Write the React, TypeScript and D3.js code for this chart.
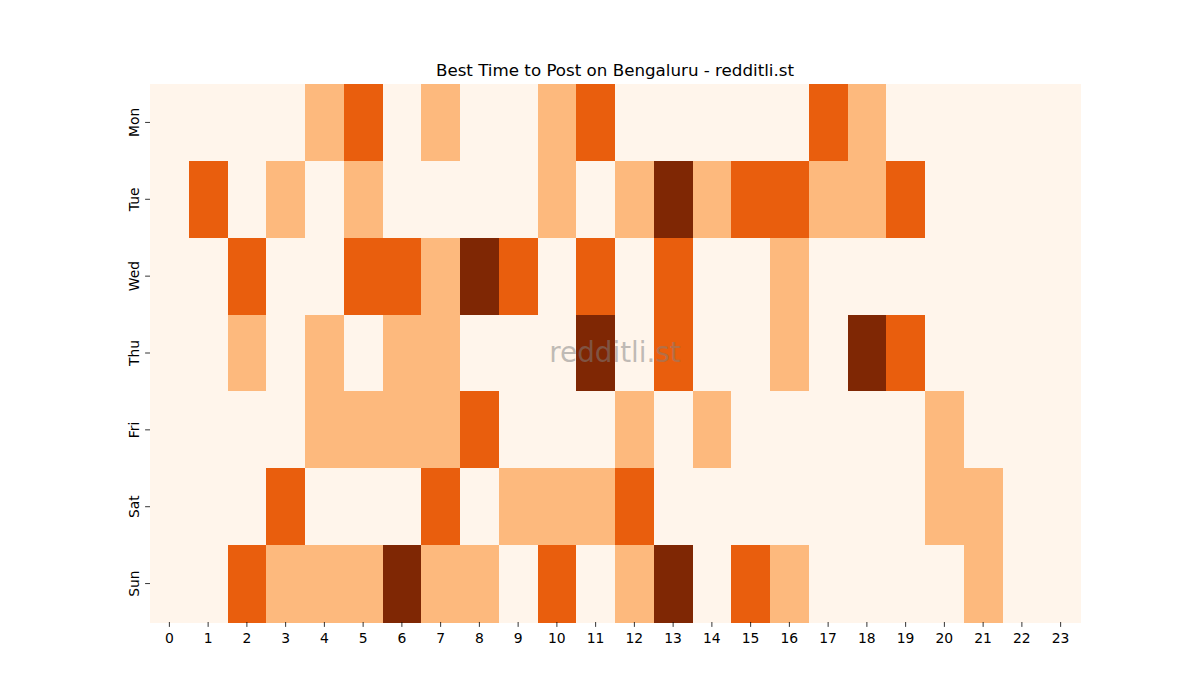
import React from "react";
import * as d3 from "d3";

const days = ["Mon", "Tue", "Wed", "Thu", "Fri", "Sat", "Sun"];
const hours = d3.range(24).map(String);

const mon = [0,0,0,0,1,2,0,1,0,0,1,2,0,0,0,0,0,2,1,0,0,0,0,0];
const tue = [0,2,0,1,0,1,0,0,0,0,1,0,1,3,1,2,2,1,1,2,0,0,0,0];
const wed = [0,0,2,0,0,2,2,1,3,2,0,2,0,2,0,0,1,0,0,0,0,0,0,0];
const thu = [0,0,1,0,1,0,1,1,0,0,0,3,0,2,0,0,1,0,3,2,0,0,0,0];
const fri = [0,0,0,0,1,1,1,1,2,0,0,0,1,0,1,0,0,0,0,0,1,0,0,0];
const sat = [0,0,0,2,0,0,0,2,0,1,1,1,2,0,0,0,0,0,0,0,1,1,0,0];
const sun = [0,0,2,1,1,1,3,1,1,0,2,0,1,3,0,2,1,0,0,0,0,1,0,0];
const rows = [mon, tue, wed, thu, fri, sat, sun];

const palette = ["#fff5eb", "#fdb97d", "#e95e0d", "#7f2704"];

const W = 1200, H = 700;
const left = 150, right = 1080, top = 84, bottom = 622;
const font = "'DejaVu Sans', sans-serif";

export default function App() {
  const x = d3.scaleBand<string>().domain(hours).range([left, right]);
  const y = d3.scaleBand<string>().domain(days).range([top, bottom]);
  const color = d3.scaleOrdinal<number, string>().domain([0, 1, 2, 3]).range(palette);

  const cells: React.ReactElement[] = [];
  rows.forEach((row, di) => {
    row.forEach((v, hi) => {
      const x0 = x(hours[hi])!;
      const y0 = y(days[di])!;
      cells.push(
        <rect
          key={`${di}-${hi}`}
          x={x0}
          y={y0}
          width={x.bandwidth() + 0.5}
          height={y.bandwidth() + 0.5}
          fill={color(v)}
          shapeRendering="crispEdges"
        />
      );
    });
  });

  return (
    <svg
      width={W}
      height={H}
      style={{ position: "absolute", left: 0, top: 0, background: "#fff" }}
      fontFamily={font}
    >
      <rect x={0} y={0} width={W} height={H} fill="#fff" />
      {cells}
      <text
        x={(left + right) / 2}
        y={362}
        textAnchor="middle"
        fontSize={27.8}
        fill="#808080"
        fillOpacity={0.5}
      >
        redditli.st
      </text>
      {hours.map((h) => {
        const cx = x(h)! + x.bandwidth() / 2;
        return (
          <g key={h}>
            <line x1={cx} x2={cx} y1={bottom} y2={bottom + 4.9} stroke="#000" strokeWidth={0.8} />
            <text x={cx} y={643} textAnchor="middle" fontSize={13.9} fill="#000">
              {h}
            </text>
          </g>
        );
      })}
      {days.map((d) => {
        const cy = y(d)! + y.bandwidth() / 2;
        return (
          <g key={d}>
            <line x1={left - 4.9} x2={left} y1={cy} y2={cy} stroke="#000" strokeWidth={0.8} />
            <text
              transform={`translate(138.5,${cy}) rotate(-90)`}
              textAnchor="middle"
              fontSize={13.9}
              fill="#000"
            >
              {d}
            </text>
          </g>
        );
      })}
      <text x={(left + right) / 2} y={76} textAnchor="middle" fontSize={16.7} fill="#000">
        Best Time to Post on Bengaluru - redditli.st
      </text>
    </svg>
  );
}
